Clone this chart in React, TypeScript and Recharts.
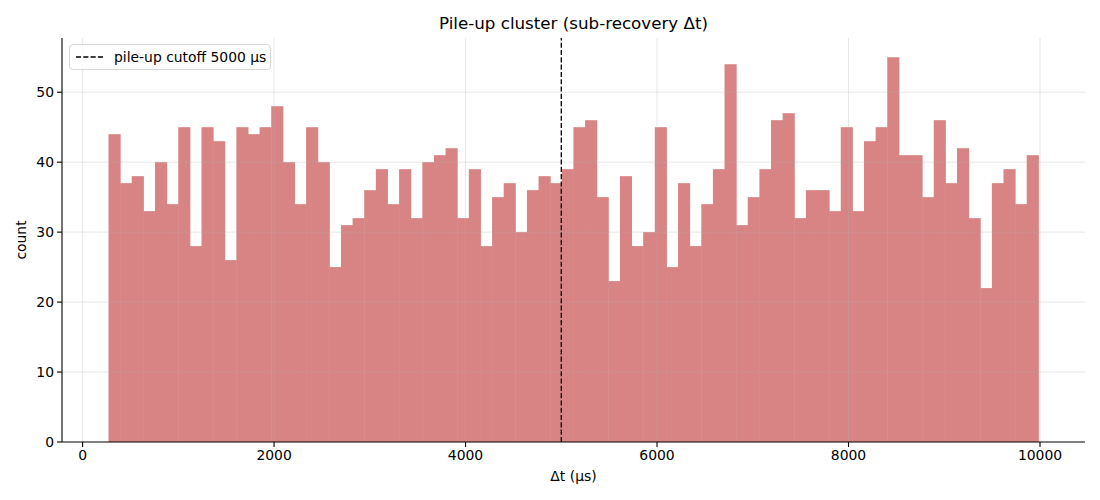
import { Bar, ComposedChart, ReferenceLine, XAxis, YAxis } from "recharts";

// histogram counts per bin (Δt, µs)
const counts = [
  44, 37, 38, 33, 40, 34, 45, 28, 45, 43, 26, 45, 44, 45, 48, 40, 34, 45, 40, 25,
  31, 32, 36, 39, 34, 39, 32, 40, 41, 42, 32, 39, 28, 35, 37, 30, 36, 38, 37, 39,
  45, 46, 35, 23, 38, 28, 30, 45, 25, 37, 28, 34, 39, 54, 31, 35, 39, 46, 47, 32,
  36, 36, 33, 45, 33, 43, 45, 55, 41, 41, 35, 46, 37, 42, 32, 22, 37, 39, 34, 41,
];
const binStart = 269;
const binWidth = 121.4;
const xTicks = [0, 2000, 4000, 6000, 8000, 10000];
const yTicks = [0, 10, 20, 30, 40, 50];
const xDomain = [-215, 10470];
const yDomain = [0, 57.75];
const cutoff = 5000;

const data = counts.map((count, i) => ({ x: binStart + (i + 0.5) * binWidth, count }));

const W = 1100;
const H = 500;
const M = { top: 38, right: 15, bottom: 28, left: 22 };
const Y_W = 40;
const X_H = 30;
const plotW = W - M.left - M.right - Y_W;
const barPx = (binWidth * plotW) / (xDomain[1] - xDomain[0]);

const FONT = "'DejaVu Sans', sans-serif";
const tick = { fontSize: 13.9, fill: "#000", fontFamily: FONT };
const BAR = "#d88484";
const DASH = "5.1 2.2";
const GRID = { stroke: "#b0b0b0", strokeOpacity: 0.3, strokeWidth: 1 };

// recharts rounds the bar width; widen each bar back to the full bin so they touch
// (a tiny overlap hides the antialiasing seams between neighbours)
function HistBar(props: any) {
  const { x, y, width, height } = props;
  if (!height || height <= 0) return null;
  const cx = x + width / 2;
  const w = barPx + 0.5;
  return <rect x={cx - w / 2} y={y} width={w} height={height} fill={BAR} />;
}

export default function App() {
  return (
    <div style={{ position: "relative", width: W, height: H, fontFamily: FONT, color: "#000" }}>
      <style>{"body{margin:0}"}</style>
      <ComposedChart width={W} height={H} data={data} margin={M} barCategoryGap={0} barGap={0}>
        <XAxis
          dataKey="x"
          type="number"
          domain={xDomain}
          ticks={xTicks}
          allowDataOverflow
          height={X_H}
          tick={tick}
          tickSize={5}
          tickMargin={3}
          axisLine={{ stroke: "#000", strokeWidth: 1.1 }}
          tickLine={{ stroke: "#000", strokeWidth: 1.1 }}
        />
        <YAxis
          type="number"
          domain={yDomain}
          ticks={yTicks}
          allowDataOverflow
          width={Y_W}
          tick={tick}
          tickSize={5}
          tickMargin={3}
          axisLine={{ stroke: "#000", strokeWidth: 1.1 }}
          tickLine={{ stroke: "#000", strokeWidth: 1.1 }}
        />
        <Bar dataKey="count" fill={BAR} barSize={barPx} shape={HistBar} isAnimationActive={false} />
        {/* grid drawn over the bars, like the matplotlib original */}
        {xTicks.map((t) => (
          <ReferenceLine key={`gx${t}`} x={t} {...GRID} />
        ))}
        {yTicks.filter((t) => t > 0).map((t) => (
          <ReferenceLine key={`gy${t}`} y={t} {...GRID} />
        ))}
        <ReferenceLine x={cutoff} stroke="#000" strokeWidth={1.3} strokeDasharray={DASH} />
      </ComposedChart>

      <div
        style={{
          position: "absolute",
          left: 0,
          right: 0,
          top: 13,
          paddingLeft: 62,
          paddingRight: 15,
          textAlign: "center",
          fontSize: 16.7,
        }}
      >
        Pile-up cluster (sub-recovery Δt)
      </div>

      <div
        style={{
          position: "absolute",
          left: 62,
          width: 1023,
          top: 468,
          textAlign: "center",
          fontSize: 13.9,
        }}
      >
        Δt (µs)
      </div>

      <div
        style={{
          position: "absolute",
          left: 21,
          top: 240,
          transform: "translate(-50%, -50%) rotate(-90deg)",
          fontSize: 13.9,
          whiteSpace: "nowrap",
        }}
      >
        count
      </div>

      <div
        style={{
          position: "absolute",
          left: 69,
          top: 44,
          width: 202,
          height: 26,
          border: "1px solid #d6d6d6",
          borderRadius: 4,
          background: "rgba(255,255,255,0.8)",
          display: "flex",
          alignItems: "center",
          fontSize: 13.9,
          boxSizing: "border-box",
        }}
      >
        <svg width={28} height={10} style={{ marginLeft: 6, marginRight: 10 }}>
          <line x1={0} y1={5} x2={28} y2={5} stroke="#000" strokeWidth={1.3} strokeDasharray={DASH} />
        </svg>
        <span>pile-up cutoff 5000 µs</span>
      </div>
    </div>
  );
}
